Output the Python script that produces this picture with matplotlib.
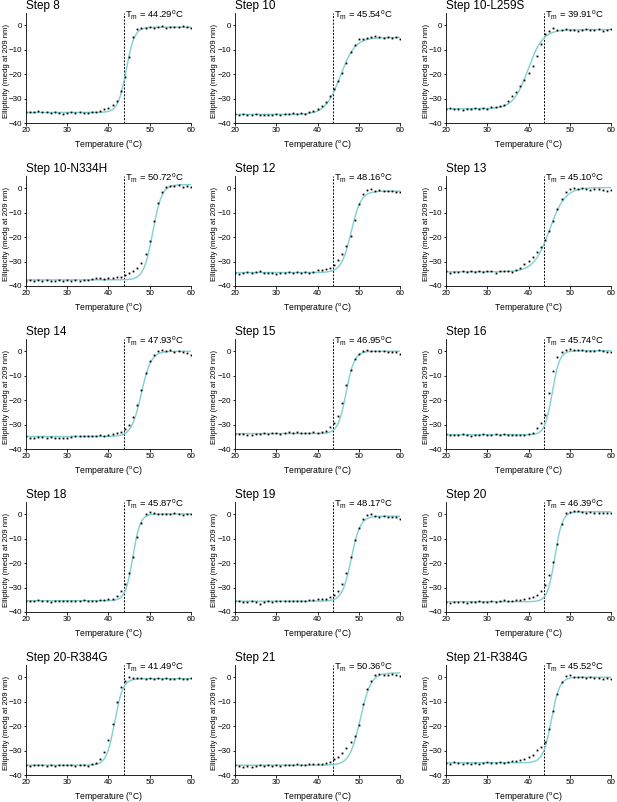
import numpy as np
import matplotlib
matplotlib.use("Agg")
import matplotlib.pyplot as plt

plt.rcParams['font.family'] = ['Liberation Sans', 'DejaVu Sans']
plt.rcParams['mathtext.default'] = 'regular'

# temperatures of the read points (deg C)
temps = np.arange(20, 61)

titles = ['Step 8', 'Step 10', 'Step 10-L259S',
          'Step 10-N334H', 'Step 12', 'Step 13',
          'Step 14', 'Step 15', 'Step 16',
          'Step 18', 'Step 19', 'Step 20',
          'Step 20-R384G', 'Step 21', 'Step 21-R384G']
tm_values = [44.29, 45.54, 39.91, 50.72, 48.16, 45.10, 47.93, 46.95,
             45.74, 45.87, 48.17, 46.39, 41.49, 50.36, 45.52]

# ellipticity, 20..60 deg C
step8 = [-35.5, -35.7, -35.4, -35.0, -35.3, -35.6, -35.8, -35.6, -35.9, -36.2,
         -35.8, -35.6, -35.9, -35.7, -35.8, -35.9, -35.7, -35.4, -35.0, -34.4,
         -33.8, -32.8, -30.8, -27.0, -21.0, -13.0, -5.0, -1.5, -1.0, -1.2,
         -0.9, -1.1, -0.8, -0.5, -1.0, -0.8, -0.9, -0.6, -0.3, -0.8, -1.3]
step10 = [-36.3, -36.6, -36.5, -36.8, -36.6, -36.3, -36.9, -36.6, -36.7, -36.8,
          -36.4, -36.6, -36.2, -36.4, -36.1, -36.3, -36.0, -36.2, -35.6, -35.0,
          -34.3, -33.2, -31.5, -29.0, -26.0, -23.0, -19.5, -15.5, -11.0, -8.0,
          -5.8, -5.6, -5.3, -4.8, -4.5, -5.0, -5.2, -4.9, -5.3, -5.0, -5.5]
step10_l259s = [-34.3, -34.0, -34.4, -34.2, -34.5, -34.1, -34.3, -33.9, -34.2, -33.8,
                -34.1, -33.6, -33.5, -33.2, -32.5, -31.0, -29.0, -27.5, -25.0, -22.5,
                -19.5, -16.5, -12.5, -7.5, -3.5, -2.2, -1.3, -1.8, -2.0, -1.7,
                -2.1, -1.9, -2.2, -1.8, -1.4, -1.8, -2.0, -1.6, -2.2, -1.8, -1.5]
step10_n334h = [-37.8, -37.5, -38.0, -37.7, -37.9, -37.6, -38.0, -37.8, -37.5, -38.1,
                -37.7, -37.9, -37.6, -37.8, -37.6, -37.4, -37.2, -36.8, -36.6, -37.0,
                -36.8, -36.9, -36.5, -36.3, -35.5, -34.8, -33.8, -32.5, -30.5, -27.0,
                -21.5, -13.5, -6.0, -1.5, 0.5, 1.0, 0.8, 1.2, 0.6, 1.0, 0.5]
step12 = [-34.5, -35.0, -34.6, -34.3, -34.6, -34.4, -34.0, -34.6, -34.8, -34.5,
          -35.0, -34.8, -34.5, -34.2, -34.5, -34.3, -34.7, -34.3, -34.6, -34.4,
          -33.6, -33.5, -33.0, -32.6, -31.5, -29.5, -27.0, -23.5, -19.5, -13.0,
          -6.5, -2.5, -0.8, -0.3, -1.2, -0.9, -1.0, -1.3, -1.2, -1.6, -1.5]
step13 = [-34.0, -34.5, -34.4, -34.2, -34.0, -34.3, -33.9, -34.2, -34.0, -34.1,
          -33.9, -34.0, -34.6, -34.0, -33.8, -34.0, -34.1, -33.5, -32.5, -31.2,
          -29.8, -28.0, -26.0, -24.0, -21.0, -17.5, -13.5, -8.5, -4.5, -1.5,
          -0.2, 0.0, -0.3, 0.0, -0.4, -0.6, -0.3, -0.5, -0.9, -1.0, -0.7]
step14 = [-34.8, -35.3, -35.6, -35.2, -35.0, -35.4, -35.1, -35.3, -35.6, -35.3,
          -35.4, -35.0, -34.8, -34.6, -34.7, -34.5, -34.8, -34.5, -34.3, -34.6,
          -34.3, -34.0, -33.6, -33.0, -32.0, -30.0, -27.0, -22.0, -16.0, -9.0,
          -4.0, -1.5, 0.0, 0.4, 0.0, 0.3, -0.2, 0.1, -0.3, -0.6, -1.5]
step15 = [-33.8, -34.0, -33.7, -34.1, -34.3, -33.8, -33.7, -33.5, -33.9, -33.6,
          -33.4, -33.7, -33.5, -33.0, -33.6, -33.2, -33.4, -33.3, -33.5, -33.2,
          -33.3, -33.0, -32.5, -31.0, -29.5, -26.5, -21.0, -14.0, -7.5, -3.0,
          -1.0, 0.0, 0.3, 0.0, 0.2, -0.1, 0.0, -0.3, -0.2, -0.5, -1.0]
step16 = [-34.0, -34.3, -34.1, -34.4, -34.0, -34.2, -34.5, -34.1, -34.3, -34.0,
          -34.4, -34.2, -33.9, -34.3, -34.0, -34.2, -34.4, -34.1, -34.3, -34.2,
          -33.8, -33.3, -31.5, -29.5, -26.0, -17.0, -8.0, -2.5, -0.5, 0.5,
          0.8, 0.6, 0.3, 0.4, 0.1, 0.2, 0.0, 0.3, -0.1, -0.3, -0.5]
step18 = [-35.4, -35.7, -35.5, -35.2, -35.6, -35.5, -35.8, -35.4, -35.3, -35.6,
          -35.5, -35.3, -35.6, -35.4, -35.2, -35.5, -35.3, -35.4, -35.2, -35.0,
          -34.8, -34.5, -33.5, -31.5, -28.5, -24.0, -17.5, -9.5, -3.5, 0.0,
          1.0, 0.3, 0.0, 0.2, -0.1, 0.1, 0.3, 0.0, -0.2, 0.2, 0.0]
step19 = [-35.7, -35.5, -36.0, -35.8, -35.6, -36.0, -36.6, -36.0, -35.7, -35.9,
          -35.6, -35.4, -35.7, -35.5, -35.3, -35.6, -35.4, -35.5, -35.2, -35.0,
          -34.8, -34.6, -34.5, -34.0, -33.2, -31.5, -28.5, -24.0, -17.5, -10.5,
          -5.5, -2.0, -0.5, 0.0, -0.6, -1.0, -0.8, -1.2, -1.0, -1.3, -2.0]
step20 = [-36.0, -36.3, -35.8, -36.1, -35.9, -36.2, -35.8, -36.0, -35.7, -36.1,
          -35.9, -35.6, -35.9, -35.5, -35.2, -35.4, -35.3, -35.2, -35.0, -34.6,
          -34.2, -33.8, -33.0, -31.5, -29.0, -25.0, -19.5, -12.0, -4.0, 0.5,
          1.0, 1.2, 1.5, 1.0, 0.6, 0.8, 0.4, 0.5, 0.3, 0.6, 0.3]
step20_r384g = [-35.8, -36.2, -35.9, -36.1, -36.0, -36.3, -35.9, -36.2, -36.0, -36.1,
                -35.8, -36.0, -36.2, -35.9, -36.1, -36.5, -35.6, -35.0, -33.5, -30.5,
                -25.5, -19.0, -10.0, -4.0, -1.5, 0.0, -0.3, -0.5, -0.4, -0.8,
                -0.5, -0.6, -0.4, -0.7, -0.5, -0.6, -0.8, -0.5, -0.7, -0.6, -0.4]
step21 = [-36.0, -36.3, -36.6, -36.2, -36.7, -36.3, -36.0, -36.4, -36.1, -36.2,
          -35.9, -36.2, -35.8, -36.0, -35.9, -35.7, -36.0, -35.8, -35.6, -35.7,
          -35.4, -35.5, -35.0, -34.5, -33.5, -32.5, -31.0, -29.0, -26.5, -24.0,
          -19.5, -11.0, -5.0, -1.5, 1.0, 1.5, 1.0, 0.8, 1.2, 0.9, 0.5]
step21_r384g = [-35.0, -35.3, -34.8, -35.2, -35.5, -35.0, -35.6, -35.1, -35.3, -35.0,
                -34.8, -35.2, -34.9, -34.7, -34.9, -34.6, -34.4, -34.2, -33.8, -33.3,
                -32.8, -31.8, -29.8, -28.5, -26.5, -21.0, -14.0, -7.0, -2.0, 0.5,
                1.0, 0.2, 0.0, 0.2, -0.2, 0.0, -0.5, -0.3, -0.6, -0.4, -0.8]

data = [step8, step10, step10_l259s, step10_n334h, step12, step13,
        step14, step15, step16, step18, step19, step20,
        step20_r384g, step21, step21_r384g]

# Boltzmann fit parameters (baselines and slope), midpoint = Tm
fit_bottom = [-35.7, -36.5, -34.2, -37.5, -34.5, -34.2, -34.9, -33.7,
              -34.2, -35.4, -35.6, -35.8, -36.0, -36.0, -35.0]
fit_top = [-0.8, -5.0, -1.8, 1.5, -1.2, 0.3, 0.0, 0.0,
           0.2, 0.1, -0.8, 1.0, -0.6, 1.8, 0.0]
fit_slope = [1.0, 1.8, 1.8, 1.1, 1.2, 1.9, 1.2, 1.0,
             0.9, 0.9, 1.1, 0.9, 1.0, 1.3, 1.0]

ref_line = 43.8

W, H = 617, 802
col_left = [26, 235, 446]
row_bottom = [123, 286, 449, 612, 775]
ax_w, ax_h = 165, 110

fig = plt.figure(figsize=(W / 100, H / 100), dpi=100)

xf = np.linspace(20, 60, 400)
for i in range(15):
    r, c = divmod(i, 3)
    ax = fig.add_axes([col_left[c] / W, 1 - row_bottom[r] / H, ax_w / W, ax_h / H])

    yf = fit_top[i] + (fit_bottom[i] - fit_top[i]) / (1 + np.exp((xf - tm_values[i]) / fit_slope[i]))
    ax.plot(xf, yf, color='#7fd0d2', lw=1.0, zorder=2)
    ax.plot(temps, data[i], 's', color='black', ms=1.3, mew=0, zorder=3)
    ax.axvline(ref_line, color='black', lw=0.7, ls=(0, (2, 1.5)), zorder=1)

    ax.set_xlim(20, 60)
    ax.set_ylim(-40, 5)
    ax.set_xticks([20, 30, 40, 50, 60])
    ax.set_yticks([0, -10, -20, -30, -40])
    for s in ['top', 'right']:
        ax.spines[s].set_visible(False)
    for s in ['left', 'bottom']:
        ax.spines[s].set_linewidth(0.6)
    ax.tick_params(labelsize=5.8, length=1.8, width=0.6, pad=1.2)

    ax.set_xlabel('Temperature ($^{o}$C)', fontsize=6.2)
    ax.xaxis.set_label_coords(0.5, -0.135)
    ax.set_ylabel('Ellipticity (medg at 209 nm)', fontsize=5.6)
    ax.yaxis.set_label_coords(-0.1, 0.47)

    ax.text(0.0, 1.064, titles[i], transform=ax.transAxes, fontsize=8.5,
            ha='left', va='center')
    ax.text(44.1, 4.0, 'T$_{m}$ = %.2f$^{o}$C' % tm_values[i], fontsize=6.8,
            ha='left', va='center')

fig.savefig('out.png', dpi=100)
